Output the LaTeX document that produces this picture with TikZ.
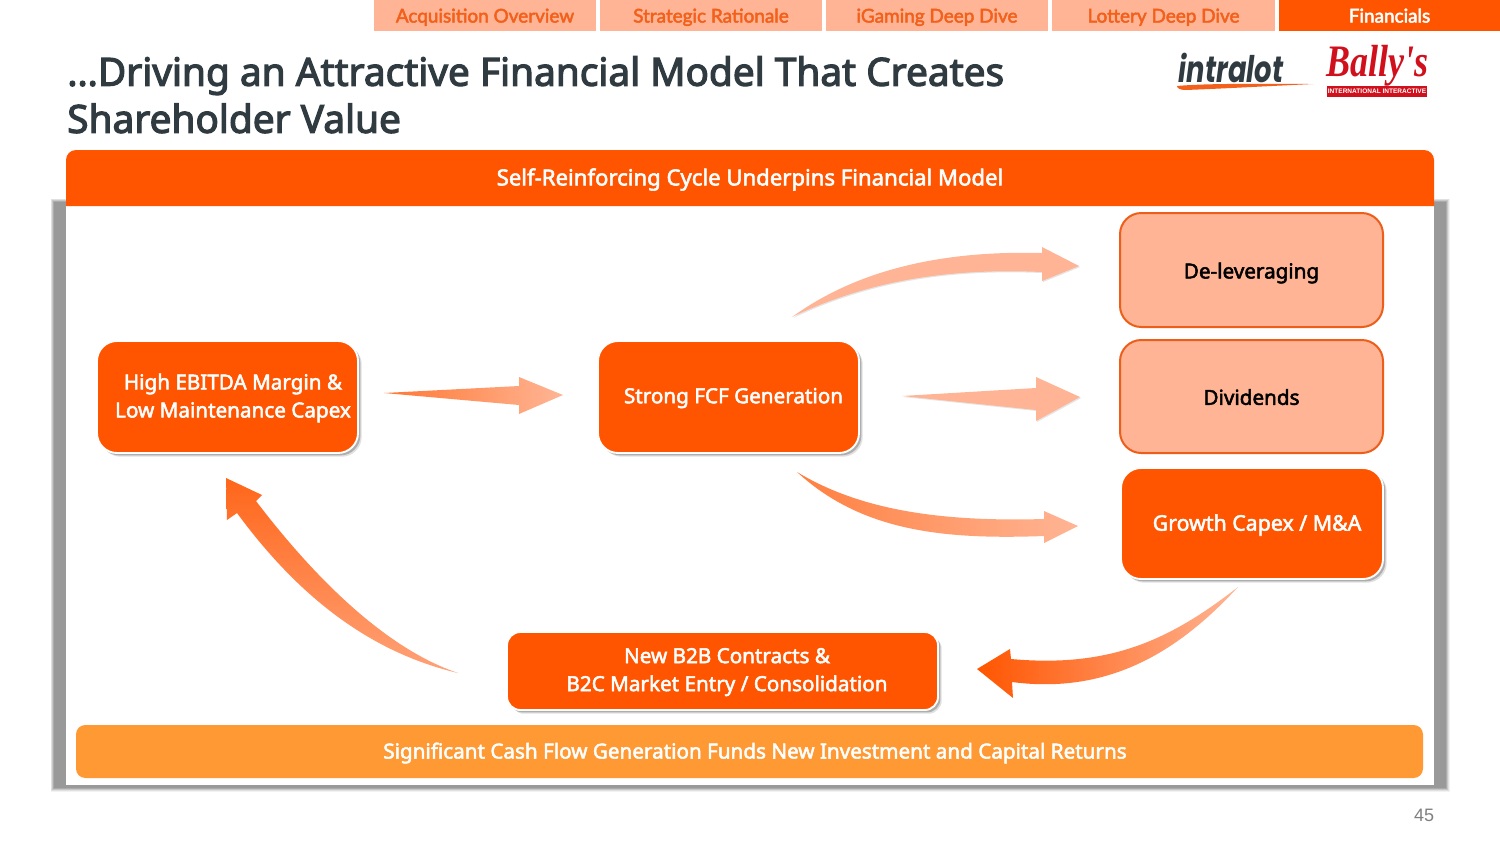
\documentclass[tikz,border=0pt]{standalone}
\usepackage{fontspec}
\usetikzlibrary{calc}
\setmainfont{Noto Sans}[FakeBold=2.4]
\newfontfamily\titlef{Noto Sans}[FakeBold=3]
\newfontfamily\tabf{Lato}[FakeBold=2.6]
\newfontfamily\numf{Liberation Sans}
\newfontfamily\logof{Liberation Serif}
\newfontfamily\introf{Poppins}
\definecolor{bigorange}{HTML}{FF5500}
\definecolor{peach}{HTML}{FFB595}
\definecolor{tabtext}{HTML}{F2601C}
\definecolor{softedge}{HTML}{EC5E1A}
\definecolor{barorange}{HTML}{FF9933}
\definecolor{titlegrey}{HTML}{2F3B40}
\definecolor{framegrey}{HTML}{999999}
\definecolor{logored}{HTML}{D0101C}
\tikzset{
  tabbox/.style={rectangle,minimum height=23.25pt,inner sep=0pt,fill=peach,text=tabtext,text height=13.3pt,text depth=2.8pt,font=\tabf\fontsize{14.2}{15}\selectfont},
  activetab/.style={tabbox,fill=bigorange,text=white},
  cardshadow/.style={preaction={draw=none,fill=black,opacity=.12,transform canvas={shift={(2.8pt,-2.8pt)}}},
    preaction={draw=none,fill=black,opacity=.22,transform canvas={shift={(1.8pt,-1.8pt)}}}},
  card/.style={rectangle,rounded corners=15pt,cardshadow,draw=white,line width=1.4pt,fill=bigorange,inner sep=0pt},
  softcard/.style={rectangle,rounded corners=16pt,draw=softedge,line width=1.5pt,fill=peach,inner sep=0pt},
  whitetxt/.style={text=white,align=center,inner sep=0pt,yshift=-2.3pt,font=\fontsize{15.5}{21}\selectfont},
  blacktxt/.style={text=black,align=center,inner sep=0pt,yshift=-.8pt,font=\fontsize{15.5}{21}\selectfont},
  softshadow/.style={preaction={fill=black,opacity=.10,transform canvas={shift={(.8pt,-.8pt)}}}},
}
\begin{document}
\begin{tikzpicture}[x=0.75pt,y=-0.75pt]
\useasboundingbox (0,0) rectangle (1500,843);
\fill[white] (0,0) rectangle (1500,843);
% tabs
\node[tabbox,minimum width=166.5pt] (t1) at (485,15.5) {Acquisition Overview};
\node[tabbox,minimum width=166.5pt] (t2) at (711,15.5) {Strategic Rationale};
\node[tabbox,minimum width=166.5pt] (t3) at (937,15.5) {iGaming Deep Dive};
\node[tabbox,minimum width=167.25pt] (t4) at (1163.5,15.5) {Lottery Deep Dive};
\node[activetab,minimum width=165.75pt] (t5) at (1389.5,15.5) {Financials};
% title
\node[anchor=north west,inner sep=0pt,text=titlegrey,align=left,font=\titlef\fontsize{29.1}{35.3}\selectfont] (title) at (67,56)
 {…Driving an Attractive Financial Model That Creates\\Shareholder Value};
% logos
\fill[tabtext] (1177,86) .. controls (1210,83) and (1270,84) .. (1313,84) .. controls (1270,86) and (1215,89) .. (1185,90) .. controls (1180,90) and (1177,88) .. (1177,86) -- cycle;
\node[inner sep=0pt,text=titlegrey,font=\introf\bfseries\itshape\fontsize{25}{26}\selectfont] (intralot) at (1231,68) {\scalebox{.82}[1.1]{intralot}};
\node[inner sep=0pt,text=logored,font=\logof\bfseries\itshape\fontsize{27}{27}\selectfont] (ballys) at (1377,66) {\scalebox{1}[1.25]{Bally's}};
\node[fill=logored,text=white,inner sep=0pt,minimum width=75pt,minimum height=8.25pt,font=\numf\bfseries\fontsize{4.9}{6}\selectfont] (intl) at (1377,91.5) {INTERNATIONAL INTERACTIVE};
% frame shadow
\foreach \d/\o in {1.5/.12,.8/.2,0/.35,-.8/.6}{
  \fill[framegrey,opacity=\o] (52-\d,200-\d) rectangle (1448+\d,790+\d);
}
\fill[framegrey] (54,202) rectangle (1446,788);
\node[rectangle,fill=white,minimum width=1026pt,minimum height=438pt,inner sep=0pt] (frame) at (750,492.5) {};
% header
\fill[bigorange] (66,206) -- (66,160) arc[start angle=180,end angle=90,x radius=10,y radius=-10] -- (1424,150) arc[start angle=90,end angle=0,x radius=10,y radius=-10] -- (1434,206) -- cycle;
\node[whitetxt,font=\fontsize{16.6}{21}\selectfont] (head) at (750,176.5) {Self-Reinforcing Cycle Underpins Financial Model};
% bottom bar
\node[rectangle,rounded corners=7pt,fill=barorange,minimum width=1010.25pt,minimum height=39.75pt,inner sep=0pt] (bar) at (749.5,751.5) {};
\node[whitetxt] (bartxt) at (755,750) {Significant Cash Flow Generation Funds New Investment and Capital Returns};
% boxes
\node[card,minimum width=195.75pt,minimum height=84pt] (high) at (227.5,397) {};
\node[whitetxt] (hightxt) at (233,395) {High EBITDA Margin \&\\Low Maintenance Capex};
\node[card,minimum width=195.75pt,minimum height=84pt] (fcf) at (728.5,397) {};
\node[whitetxt] (fcftxt) at (733.5,395) {Strong FCF Generation};
\node[softcard,minimum width=197.25pt,minimum height=85.5pt] (delev) at (1251.5,270) {};
\node[blacktxt] (delevtxt) at (1251.5,272) {De-leveraging};
\node[softcard,minimum width=197.25pt,minimum height=84.75pt] (div) at (1251.5,396.5) {};
\node[blacktxt] (divtxt) at (1251.5,396) {Dividends};
\node[card,minimum width=196.5pt,minimum height=83.25pt] (growth) at (1252,523.5) {};
\node[whitetxt,font=\fontsize{16}{21}\selectfont] (growthtxt) at (1257,522) {Growth Capex / M\&A};
\node[card,rounded corners=10pt,minimum width=323.25pt,minimum height=58.5pt] (newb) at (722.5,671) {};
\node[whitetxt] (newbtxt) at (727,669) {New B2B Contracts \&\\B2C Market Entry / Consolidation};
% page number
\node[inner sep=0pt,text=black!50,font=\numf\fontsize{13.5}{16}\selectfont] (page) at (1424,815) {45};
% arrow end points
\coordinate (a1t) at (384,393); \coordinate (a1h) at (563,395);
\coordinate (a2t) at (792,317); \coordinate (a2h) at (1079,266);
\coordinate (a3t) at (902,396); \coordinate (a3h) at (1080,397);
\coordinate (a4t) at (797,472); \coordinate (a4h) at (1078,526);
\coordinate (a5t) at (1238,587); \coordinate (a5h) at (977,669);
\coordinate (a6t) at (458,673); \coordinate (a6h) at (226,478);
% straight arrows
\shade[left color=bigorange!80!white,right color=peach] (a1t) -- (519,386) -- (519,377) -- (a1h) -- (519,414) -- (519,405) -- cycle;
\fill[peach,softshadow] (a3t) -- (1036,388) -- (1036,377) -- (a3h) -- (1036,421) -- (1036,410) -- cycle;
% curved arrows
\fill[peach,softshadow] (a2t) .. controls (850,275) and (930,250) .. (1042,253) -- (1042,247) -- (a2h) -- (1042,281) -- (1042,272) .. controls (950,268) and (870,280) .. (a2t) -- cycle;
\shade[left color=bigorange!75!white,right color=peach] (a4t) .. controls (860,510) and (940,522) .. (1044,519) -- (1044,511) -- (a4h) -- (1044,543) -- (1044,536) .. controls (940,540) and (860,530) .. (a4t) -- cycle;
\shade[left color=bigorange,right color=peach] (a5t) .. controls (1170,640) and (1110,668) .. (1011,659) -- (1010,649) -- (a5h) -- (1013,698) -- (1012,682) .. controls (1110,695) and (1180,650) .. (a5t) -- cycle;
\shade[top color=bigorange!90!white,bottom color=peach!80!bigorange] (a6t) .. controls (390,650) and (320,585) .. (256,501) -- (262,495) -- (a6h) -- (227,520) -- (237,513) .. controls (290,585) and (360,650) .. (a6t) -- cycle;
\end{tikzpicture}
\end{document}
